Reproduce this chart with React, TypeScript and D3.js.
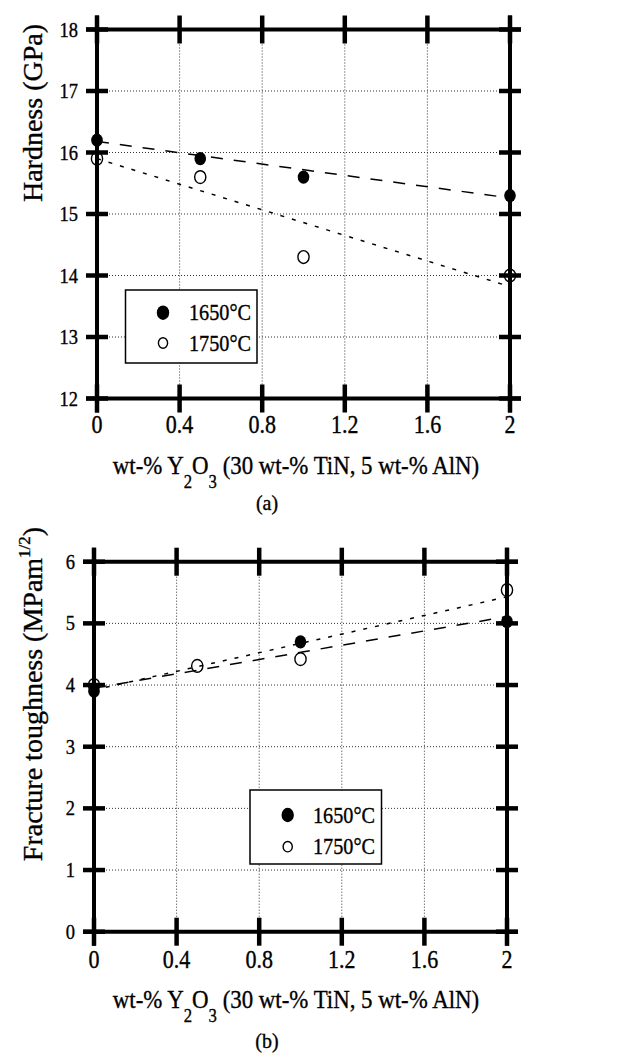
import React from "react";
import * as d3 from "d3";

// ---------- data ----------
const xTicks = [0, 0.4, 0.8, 1.2, 1.6, 2];
const xTickLabels = ["0", "0.4", "0.8", "1.2", "1.6", "2"];

const hardTicks = [12, 13, 14, 15, 16, 17, 18];
const toughTicks = [0, 1, 2, 3, 4, 5, 6];

const seriesNames = ["1650°C", "1750°C"];

const hardX1650 = [0, 0.5, 1, 2];
const hard1650 = [16.2, 15.9, 15.6, 15.3];
const hardX1750 = [0, 0.5, 1, 2];
const hard1750 = [15.9, 15.6, 14.3, 14.0];

const toughX1650 = [0, 1, 2];
const tough1650 = [3.9, 4.7, 5.03];
const toughX1750 = [0, 0.5, 1, 2];
const tough1750 = [4.0, 4.31, 4.42, 5.54];

// fitted trend lines : [x, y] endpoints
const hardFit1650 = [[0, 16.18], [2, 15.26]];
const hardFit1750 = [[0, 15.9], [2, 13.82]];
const toughFit1650 = [[0, 3.95], [2, 5.11]];
const toughFit1750 = [[0, 3.92], [2, 5.43]];

const FONT = "'Liberation Serif', 'Times New Roman', serif";

function T({ x, y, size, anchor = "start", sx = 0.88, children, rotate = 0 }: any) {
  return (
    <g transform={`translate(${x},${y}) rotate(${rotate}) scale(${sx},1)`}>
      <text x={0} y={0} fontSize={size} textAnchor={anchor} fontFamily={FONT} fill="#000" stroke="#000" strokeWidth={0.35}>
        {children}
      </text>
    </g>
  );
}

function Panel(props: any) {
  const {
    xRange, yRange, yDomain, yTicks, s1x, s1y, s2x, s2y, fit1, fit2,
    legend, yLabel, caption, captionY, tickBaseline, labelBaseline, yLabelCenter,
  } = props;
  const x = d3.scaleLinear().domain([0, 2]).range(xRange);
  const y = d3.scaleLinear().domain(yDomain).range(yRange);
  const [xl, xr] = xRange;
  const yb = y(yDomain[0]);
  const yt = y(yDomain[1]);
  const line = d3.line<number[]>().x((d) => x(d[0])).y((d) => y(d[1]));
  const gridStyle = { stroke: "#333", strokeWidth: 1, strokeDasharray: "1,2" };
  const axisW = 4;
  const tickW = 4.5;
  const tl = 11; // tick half-length for y
  const tlx = 14; // tick half-length for x
  return (
    <g>
      {/* grid */}
      {xTicks.slice(1, -1).map((t) => (
        <line key={"gx" + t} x1={x(t)} x2={x(t)} y1={yt} y2={yb} style={gridStyle} />
      ))}
      {yTicks.slice(1, -1).map((t: number) => (
        <line key={"gy" + t} x1={xl} x2={xr} y1={y(t)} y2={y(t)} style={gridStyle} />
      ))}
      {/* fit lines */}
      <path d={line(fit1) || ""} fill="none" stroke="#000" strokeWidth={1.5} strokeDasharray="12,11" />
      <path d={line(fit2) || ""} fill="none" stroke="#000" strokeWidth={1.5} strokeDasharray="4,8" />
      {/* legend */}
      <rect x={legend.x} y={legend.y} width={legend.w} height={legend.h} fill="#fff" stroke="#000" strokeWidth={1.5} />
      <ellipse cx={legend.mx} cy={legend.r1} rx={6.2} ry={7.2} fill="#000" />
      <ellipse cx={legend.mx} cy={legend.r2} rx={4.6} ry={5.2} fill="none" stroke="#000" strokeWidth={1.4} />
      <T x={legend.tx} y={legend.r1 + 7.5} size={23}>{seriesNames[0]}</T>
      <T x={legend.tx} y={legend.r2 + 7.5} size={23}>{seriesNames[1]}</T>
      {/* frame */}
      <line x1={xl - tl} x2={xr + tl} y1={yt} y2={yt} stroke="#000" strokeWidth={axisW} />
      <line x1={xl - tl} x2={xr + tl} y1={yb} y2={yb} stroke="#000" strokeWidth={axisW} />
      <line x1={xl} x2={xl} y1={yt - tlx} y2={yb + tlx} stroke="#000" strokeWidth={axisW} />
      <line x1={xr} x2={xr} y1={yt - tlx} y2={yb + tlx} stroke="#000" strokeWidth={axisW} />
      {/* ticks */}
      {xTicks.map((t) => (
        <g key={"tx" + t}>
          <line x1={x(t)} x2={x(t)} y1={yt - tlx} y2={yt + tlx} stroke="#000" strokeWidth={tickW} />
          <line x1={x(t)} x2={x(t)} y1={yb - tlx} y2={yb + tlx} stroke="#000" strokeWidth={tickW} />
        </g>
      ))}
      {yTicks.map((t: number) => (
        <g key={"ty" + t}>
          <line x1={xl - tl} x2={xl + tl} y1={y(t)} y2={y(t)} stroke="#000" strokeWidth={tickW} />
          <line x1={xr - tl} x2={xr + tl} y1={y(t)} y2={y(t)} stroke="#000" strokeWidth={tickW} />
        </g>
      ))}
      {/* tick labels */}
      {yTicks.map((t: number) => (
        <T key={"ly" + t} x={xl - 19} y={y(t) + 7} size={21} anchor="end">{String(t)}</T>
      ))}
      {xTicks.map((t, i) => (
        <T key={"lx" + t} x={x(t)} y={yb + tickBaseline} size={25} anchor="middle">{xTickLabels[i]}</T>
      ))}
      {/* data */}
      {s1x.map((v: number, i: number) => (
        <ellipse key={"a" + i} cx={x(v)} cy={y(s1y[i])} rx={5.8} ry={6.6} fill="#000" />
      ))}
      {s2x.map((v: number, i: number) => (
        <ellipse key={"b" + i} cx={x(v)} cy={y(s2y[i])} rx={5.6} ry={6.4} fill="none" stroke="#000" strokeWidth={1.4} />
      ))}
      {/* x label */}
      <T x={296} y={yb + labelBaseline} size={26} anchor="middle">
        wt-% Y<tspan fontSize={19} dy={14}>2</tspan><tspan dy={-14}>O</tspan>
        <tspan fontSize={19} dy={14}>3</tspan><tspan dy={-14}> (30 wt-% TiN, 5 wt-% AlN)</tspan>
      </T>
      <T x={267} y={captionY} size={21} anchor="middle" sx={0.95}>{caption}</T>
      {/* y label */}
      <T x={42} y={yLabelCenter} size={28} anchor="middle" sx={1} rotate={-90}>{yLabel}</T>
    </g>
  );
}

export default function App() {
  return (
    <svg width={629} height={1054} style={{ position: "absolute", left: 0, top: 0, background: "#fff" }}>
      <rect width={629} height={1054} fill="#fff" />
      <Panel
        xRange={[97, 510]}
        yRange={[398.5, 29.5]}
        yDomain={[12, 18]}
        yTicks={hardTicks}
        s1x={hardX1650}
        s1y={hard1650}
        s2x={hardX1750}
        s2y={hard1750}
        fit1={hardFit1650}
        fit2={hardFit1750}
        legend={{ x: 125.5, y: 290, w: 131.5, h: 73, mx: 163, r1: 312.7, r2: 343, tx: 189 }}
        yLabel="Hardness (GPa)"
        yLabelCenter={113}
        caption="(a)"
        captionY={510}
        tickBaseline={34}
        labelBaseline={75}
      />
      <Panel
        xRange={[94, 507]}
        yRange={[931.7, 561.7]}
        yDomain={[0, 6]}
        yTicks={toughTicks}
        s1x={toughX1650}
        s1y={tough1650}
        s2x={toughX1750}
        s2y={tough1750}
        fit1={toughFit1650}
        fit2={toughFit1750}
        legend={{ x: 250, y: 790, w: 131.5, h: 74, mx: 287.7, r1: 815, r2: 846.7, tx: 313 }}
        yLabel={<>Fracture toughness (MPam<tspan fontSize={17} dy={-12}>1/2</tspan><tspan dy={12}>)</tspan></>}
        yLabelCenter={694}
        caption="(b)"
        captionY={1048}
        tickBaseline={36}
        labelBaseline={76}
      />
    </svg>
  );
}
